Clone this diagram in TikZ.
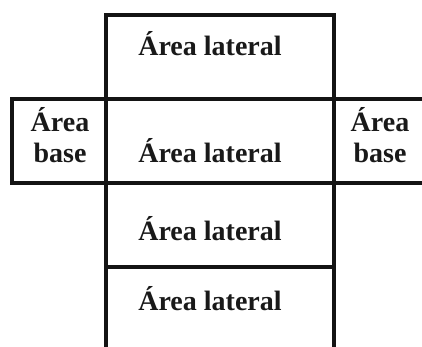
\documentclass[tikz,border=0pt]{standalone}
\usepackage{fontspec}
\setmainfont{Liberation Serif}
\begin{document}
\begin{tikzpicture}[x=1pt,y=1pt,
  edge/.style={line width=4.5pt,draw=black!92,line join=miter},
  lbl/.style={anchor=base,inner sep=0pt,font=\fontsize{28}{31}\selectfont\bfseries,text=black!90}]
\useasboundingbox (0,0) rectangle (422,347);
\clip (0,0) rectangle (422,347);
% central column (open at the bottom edge)
\draw[edge] (106,-10) -- (106,332) -- (334,332) -- (334,-10);
\draw[edge] (106,248) -- (334,248);
\draw[edge] (106,164) -- (334,164);
\draw[edge] (106,80) -- (334,80);
% side boxes
\draw[edge] (12,164) rectangle (106,248);
\draw[edge] (334,164) rectangle (440,248);
% labels
\node[lbl] (t1) at (210,291) {Área lateral};
\node[lbl] (t2) at (210,184) {Área lateral};
\node[lbl] (t3) at (210,106) {Área lateral};
\node[lbl] (t4) at (210,36) {Área lateral};
\node[lbl] (la) at (60,215) {Área};
\node[lbl] (lb) at (60,184) {base};
\node[lbl] (ra) at (380,215) {Área};
\node[lbl] (rb) at (380,184) {base};
\end{tikzpicture}
\end{document}
